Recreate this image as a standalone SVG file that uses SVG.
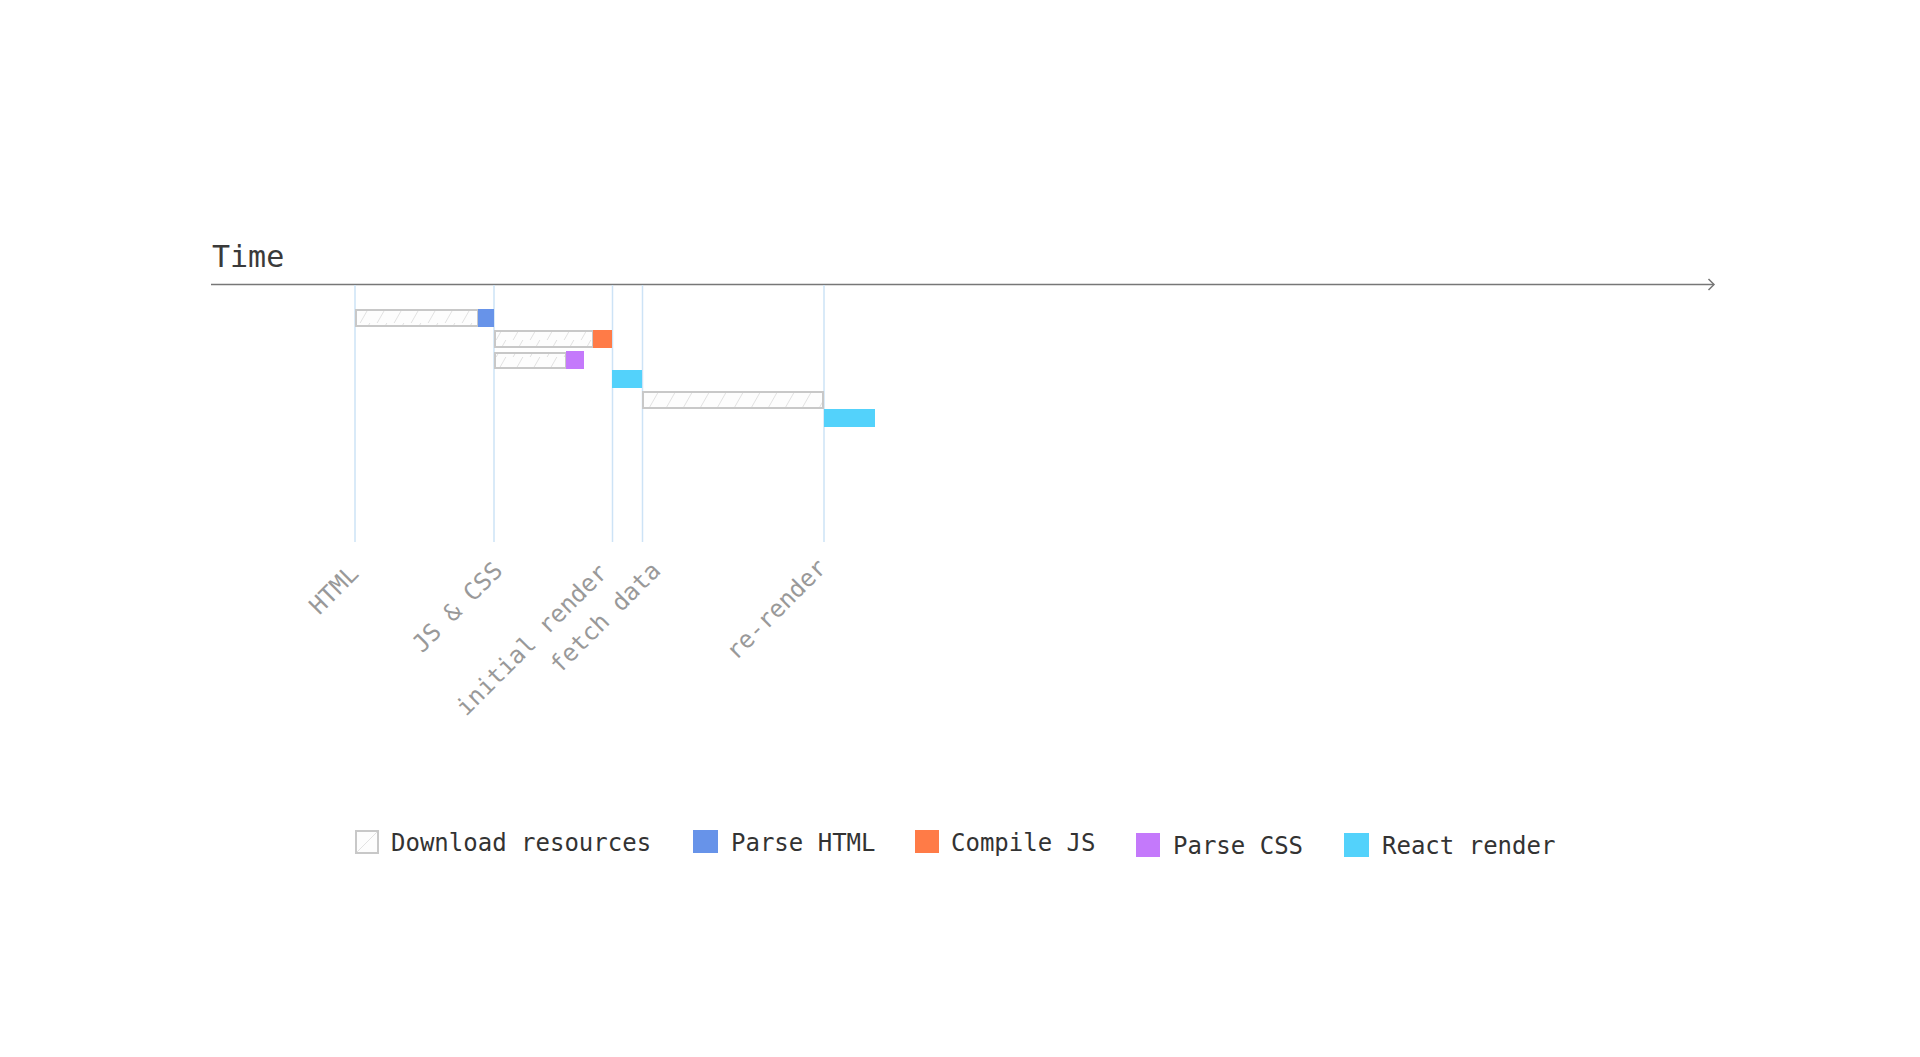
<svg xmlns="http://www.w3.org/2000/svg" width="1920" height="1057" viewBox="0 0 1920 1057">
<style>
.mono{font-family:"DejaVu Sans Mono","Liberation Mono",monospace;}
.title{font-size:30px;fill:#3a3a3a;}
.legend{font-size:24px;fill:#333;}
.label{font-size:24px;fill:#999;}
.grid{stroke:#cde3f6;stroke-width:1.5;fill:none;}
.dl{fill:url(#hatch);stroke:#c8c8c8;stroke-width:2;}
.html{fill:#6793e9;}
.js{fill:#ff7b47;}
.css{fill:#c479fb;}
.react{fill:#53d2fb;}
</style>
<defs>
<pattern id="hatch" patternUnits="userSpaceOnUse" width="17" height="17">
<rect width="17" height="17" fill="#fdfdfd"/>
<path d="M2,19 L14,-2" stroke="#e2e2e2" stroke-width="1"/>
</pattern>
<marker id="arrow" markerWidth="12" markerHeight="14" refX="7" refY="7" orient="auto" markerUnits="userSpaceOnUse">
<path d="M1.5,1.5 L7,7 L1.5,12.5" fill="none" stroke="#777" stroke-width="1.5"/>
</marker>
</defs>
<rect width="1920" height="1057" fill="#fff"/>
<g id="axis">
<text class="mono title" x="212" y="267">Time</text>
</g>
<g id="connectors">
<line x1="211" y1="284.5" x2="1714" y2="284.5" stroke="#777" stroke-width="1.5" marker-end="url(#arrow)"/>
<line class="grid" x1="355" y1="285" x2="355" y2="542"/>
<line class="grid" x1="494" y1="285" x2="494" y2="542"/>
<line class="grid" x1="612.5" y1="285" x2="612.5" y2="542"/>
<line class="grid" x1="642.5" y1="285" x2="642.5" y2="542"/>
<line class="grid" x1="824" y1="285" x2="824" y2="542"/>
</g>
<g id="bar-html">
<rect class="dl" x="356" y="310" width="122" height="16"/>
<rect class="html" x="478" y="309" width="16" height="18"/>
</g>
<g id="bar-js">
<rect class="dl" x="495" y="331" width="98" height="16"/>
<rect class="js" x="593" y="330" width="19" height="18"/>
</g>
<g id="bar-css">
<rect class="dl" x="495" y="353" width="71" height="15"/>
<rect class="css" x="566" y="351" width="18" height="18"/>
</g>
<g id="bar-initial-render">
<rect class="react" x="612" y="370" width="30" height="18"/>
</g>
<g id="bar-fetch">
<rect class="dl" x="643" y="392" width="180" height="16"/>
</g>
<g id="bar-re-render">
<rect class="react" x="824" y="409" width="51" height="18"/>
</g>
<g id="labels">
<text class="mono label" text-anchor="end" transform="translate(360,575) rotate(-45)">HTML</text>
<text class="mono label" text-anchor="end" transform="translate(504,572) rotate(-45)">JS &amp; CSS</text>
<text class="mono label" text-anchor="end" transform="translate(609,574) rotate(-45)">initial render</text>
<text class="mono label" text-anchor="end" transform="translate(662,572) rotate(-45)">fetch data</text>
<text class="mono label" text-anchor="end" transform="translate(828,569) rotate(-45)">re-render</text>
</g>
<g id="legend">
<g id="legend-download">
<rect x="356" y="831" width="22" height="22" fill="#fdfdfd" stroke="#c8c8c8" stroke-width="2"/>
<line x1="357" y1="852" x2="377" y2="832" stroke="#e2e2e2" stroke-width="1"/>
<text class="mono legend" x="391" y="851">Download resources</text>
</g>
<g id="legend-parse-html">
<rect class="html" x="693" y="830" width="25" height="23"/>
<text class="mono legend" x="731" y="851">Parse HTML</text>
</g>
<g id="legend-compile-js">
<rect class="js" x="915" y="830" width="24" height="23"/>
<text class="mono legend" x="951" y="851">Compile JS</text>
</g>
<g id="legend-parse-css">
<rect class="css" x="1136" y="833" width="24" height="24"/>
<text class="mono legend" x="1173" y="854">Parse CSS</text>
</g>
<g id="legend-react-render">
<rect class="react" x="1344" y="833" width="25" height="24"/>
<text class="mono legend" x="1382" y="854">React render</text>
</g>
</g>
</svg>
